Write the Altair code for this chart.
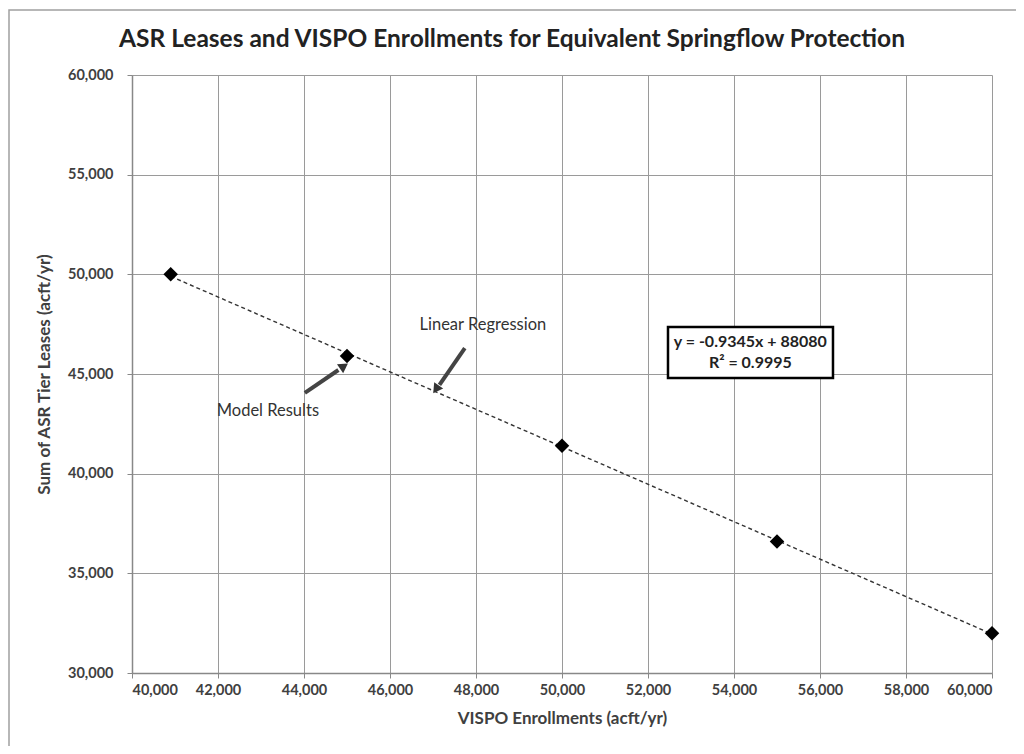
import altair as alt
import pandas as pd

# Model results
vispo = [40900, 45000, 50000, 55000, 60000]
asr = [50000, 45900, 41400, 36600, 32000]

# Annotations
label_text = ["Model Results", "Linear Regression"]
label_x = [43160, 48160]
label_y = [43150, 47460]

arrow_x = [44020, 47740]
arrow_y = [44050, 46300]
arrow_x2 = [44800, 47150]
arrow_y2 = [45200, 44450]
arrow_head_x = [44900, 47090]
arrow_head_y = [45350, 44300]
arrow_angle = [56, 215]

eq_lines = ["y = -0.9345x + 88080", "R² = 0.9995"]
eq_x = [54380, 54380]
eq_y = [46620, 45540]
box_x, box_x2 = [52465], [56302]
box_y, box_y2 = [47360], [44800]

title_text = ["ASR Leases and VISPO Enrollments for Equivalent Springflow Protection"]

FONT = "Lato"

pts = pd.DataFrame({"x": vispo, "y": asr})
labels = pd.DataFrame({"t": label_text, "x": label_x, "y": label_y})
arrows = pd.DataFrame({"x": arrow_x, "y": arrow_y, "x2": arrow_x2, "y2": arrow_y2,
                       "hx": arrow_head_x, "hy": arrow_head_y, "a": arrow_angle})
eq = pd.DataFrame({"t": eq_lines, "x": eq_x, "y": eq_y})
box = pd.DataFrame({"x": box_x, "x2": box_x2, "y": box_y, "y2": box_y2})

xs = alt.Scale(domain=[40000, 60000], nice=False, zero=False)
ys = alt.Scale(domain=[30000, 60000], nice=False, zero=False)

xax = alt.Axis(values=list(range(40000, 60001, 2000)), format=",.0f", title="VISPO Enrollments (acft/yr)",
               grid=True, gridColor="#9a9a9a", tickSize=5, tickColor="#888", domainColor="#888",
               domainWidth=1.5, labelPadding=5, labelFontSize=14.5, labelFont=FONT, labelFontWeight="bold",
               labelColor="#404040", titleFont=FONT, titleFontSize=17, titleFontWeight="bold",
               titleColor="#404040", titlePadding=14)
yax = alt.Axis(values=list(range(30000, 60001, 5000)), format=",.0f", title="Sum of ASR Tier Leases (acft/yr)",
               grid=True, gridColor="#9a9a9a", tickSize=5, tickColor="#888", domainColor="#888",
               domainWidth=1.5, labelPadding=14, labelFontSize=14.5, labelFont=FONT, labelFontWeight="bold",
               labelColor="#404040", titleFont=FONT, titleFontSize=17, titleFontWeight="bold",
               titleColor="#404040", titlePadding=14)

base = alt.Chart(pts)

frame = alt.Chart(pd.DataFrame({"k": [0]})).mark_rect(fill=None, stroke="#a0a0a0", strokeWidth=1.5).encode(
    x=alt.value(-123), x2=alt.value(900), y=alt.value(-65), y2=alt.value(700))

title = alt.Chart(pd.DataFrame({"t": title_text})).mark_text(
    font=FONT, fontSize=24.5, fontWeight="bold", color="#222").encode(
    x=alt.value(380), y=alt.value(-35), text="t:N")

points = base.mark_point(shape="diamond", filled=True, color="black", size=210, opacity=1).encode(
    x=alt.X("x:Q", scale=xs, axis=xax), y=alt.Y("y:Q", scale=ys, axis=yax))

reg = base.transform_regression("x", "y", extent=[40900, 60000]).mark_line(
    color="#333", strokeDash=[4, 3], strokeWidth=1.4).encode(
    x=alt.X("x:Q", scale=xs), y=alt.Y("y:Q", scale=ys))

shafts = alt.Chart(arrows).mark_rule(color="#444", strokeWidth=4).encode(
    x=alt.X("x:Q", scale=xs), y=alt.Y("y:Q", scale=ys), x2="x2:Q", y2="y2:Q")
heads = alt.Chart(arrows).mark_point(shape="triangle", filled=True, color="#333", size=120, opacity=1).encode(
    x=alt.X("hx:Q", scale=xs), y=alt.Y("hy:Q", scale=ys), angle=alt.Angle("a:Q", scale=None))

texts = alt.Chart(labels).mark_text(font=FONT, fontSize=16.5, color="#333").encode(
    x=alt.X("x:Q", scale=xs), y=alt.Y("y:Q", scale=ys), text="t:N")

boxm = alt.Chart(box).mark_rect(fill="white", stroke="black", strokeWidth=2.5).encode(
    x=alt.X("x:Q", scale=xs), x2="x2:Q", y=alt.Y("y:Q", scale=ys), y2="y2:Q")
eqt = alt.Chart(eq).mark_text(font=FONT, fontSize=16, color="#222", fontWeight="bold").encode(
    x=alt.X("x:Q", scale=xs), y=alt.Y("y:Q", scale=ys), text="t:N")

chart = alt.layer(frame, title, reg, points, shafts, heads, texts, boxm, eqt).properties(
    width=860, height=598,
    autosize=alt.AutoSizeParams(type="none"),
    padding={"left": 124, "top": 67, "right": 24, "bottom": 73},
).configure_view(stroke=None)

chart.save("out.html", embed_options={"renderer": "svg", "actions": False})
